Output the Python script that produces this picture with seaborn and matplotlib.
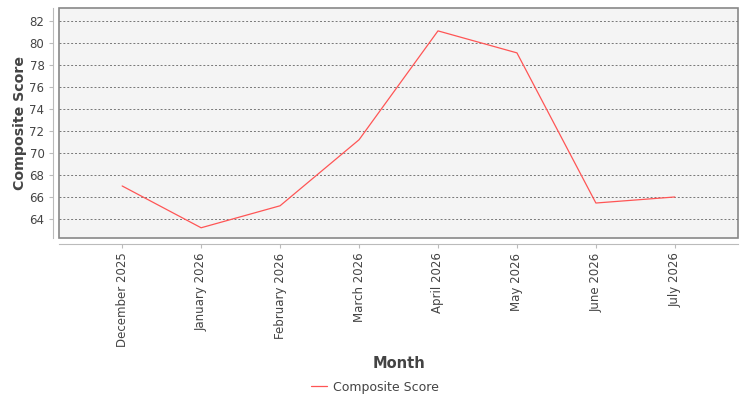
import matplotlib
matplotlib.use("Agg")
import matplotlib.pyplot as plt
import pandas as pd
import seaborn as sns

months = ["December 2025", "January 2026", "February 2026", "March 2026",
          "April 2026", "May 2026", "June 2026", "July 2026"]
scores = [67.0, 63.2, 65.2, 71.2, 81.1, 79.1, 65.45, 66.0]

df = pd.DataFrame({"Month": months, "Composite Score": scores})
df["pos"] = range(len(months))

sns.set_style("white")
plt.rcParams["font.family"] = ["DejaVu Sans"]

fig = plt.figure(figsize=(7.5, 4), dpi=100)
ax = fig.add_axes([59 / 750, 1 - 238 / 400, (738 - 59) / 750, (238 - 8) / 400])

sns.lineplot(data=df, x="pos", y="Composite Score", color="#ff5555",
             linewidth=0.9, ax=ax, label="Composite Score", legend=False)

ax.set_facecolor("#f4f4f4")
ax.patch.set_edgecolor("#888888")
ax.patch.set_linewidth(1.2)

ax.set_xlim(-0.8, 7.8)
ax.set_ylim(62.27, 83.18)
ax.set_yticks(range(64, 84, 2))
ax.set_xticks(df["pos"])
ax.set_xticklabels(months)
ax.tick_params(axis="both", labelsize=8.5, labelcolor="#444444", length=3,
               width=0.8, direction="out", color="#bbbbbb",
               bottom=True, left=True)
ax.tick_params(axis="x", labelrotation=90)

ax.grid(axis="y", color="#777777", linestyle=(0, (2, 2)), linewidth=0.7)
ax.set_axisbelow(True)

for side in ["top", "right"]:
    ax.spines[side].set_visible(False)
for side in ["left", "bottom"]:
    ax.spines[side].set_position(("outward", 4))
    ax.spines[side].set_color("#bbbbbb")
    ax.spines[side].set_linewidth(0.8)

ax.set_xlabel("Month", fontsize=10.5, fontweight="bold", color="#444444")
ax.set_ylabel("Composite Score", fontsize=10.2, fontweight="bold",
              color="#444444")
ax.xaxis.set_label_coords(0.5, 1 - (364 - 8) / 230, transform=ax.transAxes)
ax.yaxis.set_label_coords((20 - 59) / 679, 0.5, transform=ax.transAxes)
ax.xaxis.label.set_va("center")
ax.yaxis.label.set_va("center")

handles, labels = ax.get_legend_handles_labels()
fig.legend(handles, labels, loc="center", bbox_to_anchor=(375 / 750, 1 - 387 / 400),
           frameon=False, fontsize=9, handlelength=1.3, handletextpad=0.5,
           labelcolor="#444444")

fig.savefig("out.png", dpi=100)
